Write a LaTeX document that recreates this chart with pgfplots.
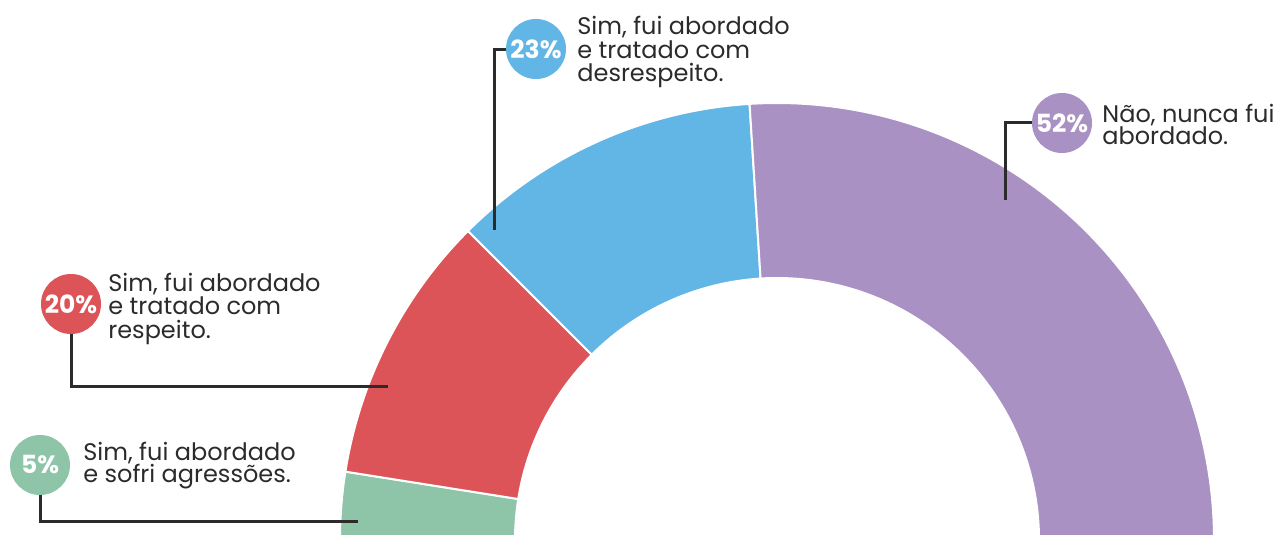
\documentclass[border=0pt]{standalone}
\usepackage{pgfplots}
\pgfplotsset{compat=1.18}
\usepackage{fontspec}
\setmainfont{Poppins}

\definecolor{cgreen}{HTML}{8EC4A8}
\definecolor{cred}{HTML}{DC5457}
\definecolor{cblue}{HTML}{62B6E5}
\definecolor{cpurple}{HTML}{AA91C4}
\definecolor{ctext}{HTML}{2B2B2B}

% shares (percent), left to right along the half ring
\def\pA{5}\def\pB{20}\def\pC{23}\def\pD{52}
\pgfmathsetmacro\aA{180}
\pgfmathsetmacro\aB{\aA-1.8*\pA}
\pgfmathsetmacro\aC{\aB-1.8*\pB}
\pgfmathsetmacro\aD{\aC-1.8*\pC}
\pgfmathsetmacro\aE{\aD-1.8*\pD}

% annular sector: start angle, end angle, colour (1 axis unit = 0.5pt)
\newcommand\slice[3]{%
  \fill[#3, draw=white, line width=1pt] (axis cs:777,-5) ++(#1:218.5pt)
    arc[start angle=#1, end angle=#2, radius=218.5pt]
    -- ++(#2:-87.5pt)
    arc[start angle=#2, end angle=#1, radius=131pt] -- cycle;}
\newcommand\badge[4]{%
  \fill[#3] (axis cs:#1,#2) circle[radius=15pt];
  \node[text=white, font=\fontsize{12.5}{12.5}\selectfont\bfseries, inner sep=0pt]
    at (axis cs:#1,#2) {#4};}
\newcommand\lbl[3]{%
  \node[anchor=base west, inner sep=0pt, text=ctext,
        font=\fontsize{12}{12}\selectfont] at (axis cs:#1,#2) {#3};}

\begin{document}
\begin{tikzpicture}
\begin{axis}[
  x=0.5pt, y=0.5pt,
  xmin=0, xmax=1279, ymin=0, ymax=535,
  hide axis, clip=false,
]
\coordinate (BL) at (axis cs:0,0);
\coordinate (TR) at (axis cs:1279,535);

\slice{\aA}{\aB}{cgreen}
\slice{\aB}{\aC}{cred}
\slice{\aC}{\aD}{cblue}
\slice{\aD}{\aE}{cpurple}

% leader lines
\draw[ctext, line width=1.5pt] (axis cs:40,60) -- (axis cs:40,13) -- (axis cs:358,13);
\draw[ctext, line width=1.5pt] (axis cs:71,220) -- (axis cs:71,148) -- (axis cs:388,148);
\draw[ctext, line width=1.5pt] (axis cs:520,485) -- (axis cs:494,485) -- (axis cs:494,305);
\draw[ctext, line width=1.5pt] (axis cs:1045,412) -- (axis cs:1005,412) -- (axis cs:1005,335);

\badge{40}{70}{cgreen}{5\%}
\badge{71}{231}{cred}{20\%}
\badge{536}{486}{cblue}{23\%}
\badge{1062}{412}{cpurple}{52\%}

\lbl{83}{74}{Sim, fui abordado}
\lbl{83}{52}{e sofri agressões.}
\lbl{108}{243}{Sim, fui abordado}
\lbl{108}{220}{e tratado com}
\lbl{108}{196}{respeito.}
\lbl{577}{500}{Sim, fui abordado}
\lbl{577}{476}{e tratado com}
\lbl{577}{453}{desrespeito.}
\lbl{1102}{412}{Não, nunca fui}
\lbl{1102}{390}{abordado.}
\end{axis}
\pgfresetboundingbox
\path[use as bounding box] (BL) rectangle (TR);
\end{tikzpicture}
\end{document}
